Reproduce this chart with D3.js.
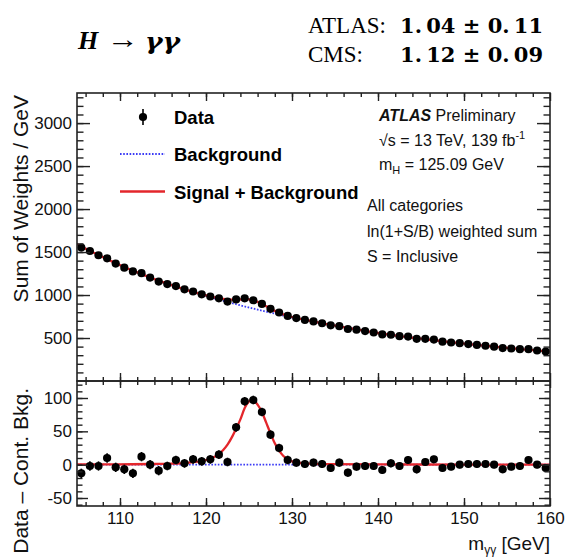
<!DOCTYPE html>
<html>
<head>
<meta charset="utf-8">
<script src="https://cdn.jsdelivr.net/npm/d3@7"></script>
<style>
  body { margin: 0; background: #fff; }
  svg { display: block; }
</style>
</head>
<body>
<svg id="chart" width="566" height="557"></svg>
<script>
// ---- Diphoton invariant-mass spectrum, ln(1+S/B)-weighted, all categories ----

// bin centres of the 1 GeV bins [GeV]
const massBins = [
  105.5, 106.5, 107.5, 108.5, 109.5, 110.5, 111.5, 112.5, 113.5, 114.5,
  115.5, 116.5, 117.5, 118.5, 119.5, 120.5, 121.5, 122.5, 123.5, 124.5,
  125.5, 126.5, 127.5, 128.5, 129.5, 130.5, 131.5, 132.5, 133.5, 134.5,
  135.5, 136.5, 137.5, 138.5, 139.5, 140.5, 141.5, 142.5, 143.5, 144.5,
  145.5, 146.5, 147.5, 148.5, 149.5, 150.5, 151.5, 152.5, 153.5, 154.5,
  155.5, 156.5, 157.5, 158.5, 159.5
];

// weighted data, sum of weights per GeV
const sumWeights = [
  1552, 1512, 1463, 1427, 1366, 1318, 1275, 1254, 1203, 1157,
  1128, 1104, 1066, 1041, 1008,  983,  962,  924,  949,  962,
   939,  897,  840,  797,  757,  732,  710,  693,  672,  648,
   638,  605,  597,  581,  564,  542,  538,  521,  517,  491,
   490,  482,  457,  448,  440,  430,  420,  410,  399,  383,
   378,  370,  370,  355,  342
];

// data minus continuum background
const residual = [
  -13,  -2,  -2,  10,  -4,  -7, -13,  12,   0,  -9,
   -2,   7,   2,   8,   5,   8,  15,   4,  56,  95,
   97,  79,  45,  25,   7,   3,   1,   3,   1,  -5,
    3, -12,  -3,  -2,  -2,  -8,   2,  -2,   7,  -7,
    4,   8,  -5,  -3,   0,   1,   1,   1,   0,  -7,
   -3,  -2,   7,   0,  -5
];

// statistical uncertainty per bin
const statErr = [
  7, 7, 7, 7, 7, 7, 7, 7, 7, 7,
  6.5, 6.5, 6.5, 6.5, 6.5, 6.5, 6.5, 6.5, 6.5, 6.5,
  6.5, 6.5, 6.5, 6.5, 6.5, 6, 6, 6, 6, 6,
  6, 6, 6, 6, 6, 6, 6, 6, 6, 6,
  5.5, 5.5, 5.5, 5.5, 5.5, 5.5, 5.5, 5.5, 5.5, 5.5,
  5.5, 5.5, 5.5, 5.5, 5.5
];

// continuum background fit, evaluated at the range edges and bin centres
const fitMass = [105, ...massBins, 160];
const bkgFit = [
  1592,
  1565, 1514, 1465, 1417, 1370, 1325, 1283, 1242, 1203, 1166,
  1130, 1097, 1064, 1033, 1003,  975,  947,  920,  893,  867,
   842,  818,  795,  772,  750,  729,  709,  690,  671,  653,
   635,  617,  600,  583,  566,  550,  536,  523,  510,  498,
   486,  474,  462,  451,  440,  429,  419,  409,  399,  390,
   381,  372,  363,  355,  347,
  343
];

// fitted Higgs signal shape
const signalMass = [
  105, 110, 114, 116, 117, 118, 119, 119.5, 120, 120.5,
  121, 121.5, 122, 122.5, 123, 123.5, 124, 124.5, 125, 125.3,
  125.6, 126, 126.5, 127, 127.5, 128, 128.5, 129, 129.5, 130,
  130.5, 131, 132, 134, 140, 150, 160
];
const signalYield = [
  0.3, 0.5, 1, 1.5, 2, 3, 4.5, 5.5, 7, 9,
  12, 16, 22, 30, 41, 54, 68, 85, 95, 97,
  96, 90, 79, 63, 47, 32, 21, 13, 8, 5,
  3.5, 2.5, 1.5, 0.8, 0.3, 0.2, 0.1
];

// axis ticks
const xMajor = [110, 120, 130, 140, 150, 160];
const xMinor = d3.range(106, 160, 2);
const yTopMajor = [500, 1000, 1500, 2000, 2500, 3000];
const yTopMinor = d3.range(100, 3400, 100);
const yBotMajor = [-50, 0, 50, 100];
const yBotMinor = d3.range(-60, 130, 10);

// legend and annotations
const legendItems = ["Data", "Background", "Signal + Background"];

// ---------------- layout ----------------
const frame = { left: 77, right: 550, top: 93, split: 381, bottom: 506 };
const SANS = "'Liberation Sans', Arial, Helvetica, sans-serif";
const SERIF = "'Liberation Serif', 'Times New Roman', serif";
const RED = "#e3262b";
const BLUE = "#3b3bf5";
const AXIS = "#222";
const MARKER_R = 4.1;

const x = d3.scaleLinear().domain([105, 160]).range([frame.left, frame.right]);
const yTop = d3.scaleLinear().domain([0, 3350]).range([frame.split, frame.top]);
const yBot = d3.scaleLinear().domain([-62, 125.5]).range([frame.bottom, frame.split]);

const svg = d3.select("#chart");

// linear lookup into a tabulated curve
function lookup(xs, ys, m) {
  const i = Math.min(Math.max(d3.bisectLeft(xs, m), 1), xs.length - 1);
  const t = (m - xs[i - 1]) / (xs[i] - xs[i - 1]);
  return ys[i - 1] + t * (ys[i] - ys[i - 1]);
}

// ---------------- curves ----------------
svg.append("clipPath").attr("id", "clipTop").append("rect")
  .attr("x", frame.left).attr("y", frame.top)
  .attr("width", frame.right - frame.left).attr("height", frame.split - frame.top);
svg.append("clipPath").attr("id", "clipBot").append("rect")
  .attr("x", frame.left).attr("y", frame.split)
  .attr("width", frame.right - frame.left).attr("height", frame.bottom - frame.split);

const upper = svg.append("g").attr("clip-path", "url(#clipTop)");
const lower = svg.append("g").attr("clip-path", "url(#clipBot)");

const bkgPoints = fitMass.map((m, i) => [m, bkgFit[i]]);
const sbMass = Array.from(new Set([...fitMass, ...signalMass])).sort((a, b) => a - b);
const sbPoints = sbMass.map(m => [m, lookup(fitMass, bkgFit, m) + lookup(signalMass, signalYield, m)]);

const lineTop = d3.line().x(d => x(d[0])).y(d => yTop(d[1])).curve(d3.curveMonotoneX);
const lineBot = d3.line().x(d => x(d[0])).y(d => yBot(d[1])).curve(d3.curveMonotoneX);

upper.append("path").datum(bkgPoints).attr("d", lineTop)
  .attr("fill", "none").attr("stroke", BLUE).attr("stroke-width", 1.8)
  .attr("stroke-dasharray", "1.6,1.6");
upper.append("path").datum(sbPoints).attr("d", lineTop)
  .attr("fill", "none").attr("stroke", RED).attr("stroke-width", 2.3);

lower.append("path").datum([[105, 0], [160, 0]]).attr("d", lineBot)
  .attr("fill", "none").attr("stroke", BLUE).attr("stroke-width", 1.8)
  .attr("stroke-dasharray", "1.6,1.6");
lower.append("path").datum(signalMass.map((m, i) => [m, signalYield[i]])).attr("d", lineBot)
  .attr("fill", "none").attr("stroke", RED).attr("stroke-width", 2.3);

// ---------------- data points ----------------
function drawPoints(g, yScale, values) {
  const pts = g.append("g").selectAll("g").data(massBins).join("g");
  pts.append("line")
    .attr("x1", m => x(m)).attr("x2", m => x(m))
    .attr("y1", (m, i) => yScale(values[i] - statErr[i]))
    .attr("y2", (m, i) => yScale(values[i] + statErr[i]))
    .attr("stroke", "#000").attr("stroke-width", 1.6);
  pts.append("circle")
    .attr("cx", m => x(m)).attr("cy", (m, i) => yScale(values[i]))
    .attr("r", MARKER_R).attr("fill", "#000");
}
drawPoints(upper, yTop, sumWeights);
drawPoints(lower, yBot, residual);

// ---------------- axes ----------------
function styleAxis(g, withLabels) {
  g.select(".domain").remove();
  g.selectAll(".tick line").attr("stroke", AXIS).attr("stroke-width", 1.4);
  g.selectAll(".tick text")
    .attr("fill", withLabels ? "#111" : "none")
    .attr("font-family", SANS).attr("font-size", 17);
}
function addAxis(axis, tx, ty, withLabels) {
  const g = svg.append("g").attr("transform", `translate(${tx},${ty})`).call(axis);
  styleAxis(g, withLabels);
  return g;
}
const none = () => "";

// upper panel
addAxis(d3.axisLeft(yTop).tickValues(yTopMinor).tickSize(-6.5).tickSizeOuter(0).tickFormat(none), frame.left, 0, false);
addAxis(d3.axisLeft(yTop).tickValues(yTopMajor).tickSize(-13).tickSizeOuter(0).tickPadding(5).tickFormat(d => String(d)), frame.left, 0, true);
addAxis(d3.axisRight(yTop).tickValues(yTopMinor).tickSize(-6.5).tickSizeOuter(0).tickFormat(none), frame.right, 0, false);
addAxis(d3.axisRight(yTop).tickValues(yTopMajor).tickSize(-13).tickSizeOuter(0).tickFormat(none), frame.right, 0, false);
addAxis(d3.axisTop(x).tickValues(xMinor).tickSize(-4).tickSizeOuter(0).tickFormat(none), 0, frame.top, false);
addAxis(d3.axisTop(x).tickValues(xMajor).tickSize(-8).tickSizeOuter(0).tickFormat(none), 0, frame.top, false);
addAxis(d3.axisBottom(x).tickValues(xMinor).tickSize(-4).tickSizeOuter(0).tickFormat(none), 0, frame.split, false);
addAxis(d3.axisBottom(x).tickValues(xMajor).tickSize(-8).tickSizeOuter(0).tickFormat(none), 0, frame.split, false);

// lower panel
addAxis(d3.axisLeft(yBot).tickValues(yBotMinor).tickSize(-5.5).tickSizeOuter(0).tickFormat(none), frame.left, 0, false);
addAxis(d3.axisLeft(yBot).tickValues(yBotMajor).tickSize(-11).tickSizeOuter(0).tickPadding(5).tickFormat(d => String(d)), frame.left, 0, true);
addAxis(d3.axisRight(yBot).tickValues(yBotMinor).tickSize(-5.5).tickSizeOuter(0).tickFormat(none), frame.right, 0, false);
addAxis(d3.axisRight(yBot).tickValues(yBotMajor).tickSize(-11).tickSizeOuter(0).tickFormat(none), frame.right, 0, false);
addAxis(d3.axisTop(x).tickValues(xMinor).tickSize(-4).tickSizeOuter(0).tickFormat(none), 0, frame.split, false);
addAxis(d3.axisTop(x).tickValues(xMajor).tickSize(-7).tickSizeOuter(0).tickFormat(none), 0, frame.split, false);
addAxis(d3.axisBottom(x).tickValues(xMinor).tickSize(-4).tickSizeOuter(0).tickFormat(none), 0, frame.bottom, false);
addAxis(d3.axisBottom(x).tickValues(xMajor).tickSize(-8).tickSizeOuter(0).tickPadding(6).tickFormat(d => String(d)), 0, frame.bottom, true);

// frames
[[frame.top, frame.split], [frame.split, frame.bottom]].forEach(([t, b]) => {
  svg.append("rect")
    .attr("x", frame.left).attr("y", t)
    .attr("width", frame.right - frame.left).attr("height", b - t)
    .attr("fill", "none").attr("stroke", AXIS).attr("stroke-width", 1.6);
});

// axis titles
svg.append("text")
  .attr("transform", "translate(28,95) rotate(-90)")
  .attr("text-anchor", "end").attr("font-family", SANS).attr("font-size", 21).attr("fill", "#111")
  .text("Sum of Weights / GeV");
svg.append("text")
  .attr("transform", "translate(28,388) rotate(-90)")
  .attr("text-anchor", "end").attr("font-family", SANS).attr("font-size", 21).attr("fill", "#111")
  .text("Data \u2013 Cont. Bkg.");
const xTitle = svg.append("text")
  .attr("x", frame.right).attr("y", 550).attr("text-anchor", "end")
  .attr("font-family", SANS).attr("font-size", 19).attr("fill", "#111");
xTitle.append("tspan").text("m");
xTitle.append("tspan").attr("font-size", 12).attr("dy", 4).text("\u03b3\u03b3");
xTitle.append("tspan").attr("dy", -4).text(" [GeV]");

// ---------------- legend ----------------
const leg = svg.append("g").attr("font-family", SANS).attr("font-weight", "bold").attr("font-size", 18.5).attr("fill", "#000");
// data marker
leg.append("line").attr("x1", 143).attr("x2", 143).attr("y1", 109).attr("y2", 125)
  .attr("stroke", "#000").attr("stroke-width", 1.6);
leg.append("circle").attr("cx", 143).attr("cy", 117).attr("r", MARKER_R).attr("fill", "#000");
leg.append("line").attr("x1", 120).attr("x2", 165).attr("y1", 154).attr("y2", 154)
  .attr("stroke", BLUE).attr("stroke-width", 1.8).attr("stroke-dasharray", "1.6,1.6");
leg.append("line").attr("x1", 120).attr("x2", 165).attr("y1", 191.5).attr("y2", 191.5)
  .attr("stroke", RED).attr("stroke-width", 2.3);
legendItems.forEach((label, i) => {
  leg.append("text").attr("x", 174).attr("y", 123.5 + i * 37.5).text(label);
});

// ---------------- annotation block ----------------
const ann = svg.append("g").attr("font-family", SANS).attr("font-size", 16).attr("fill", "#111");
const a1 = ann.append("text").attr("x", 379).attr("y", 121);
a1.append("tspan").attr("font-weight", "bold").attr("font-style", "italic").text("ATLAS");
a1.append("tspan").text(" Preliminary");
const a2 = ann.append("text").attr("x", 379).attr("y", 146);
a2.append("tspan").text("\u221as = 13 TeV, 139 fb");
a2.append("tspan").attr("font-size", 11).attr("dy", -7).text("-1");
const a3 = ann.append("text").attr("x", 379).attr("y", 170);
a3.append("tspan").text("m");
a3.append("tspan").attr("font-size", 11).attr("dy", 4).text("H");
a3.append("tspan").attr("dy", -4).text(" = 125.09 GeV");
ann.append("text").attr("x", 367).attr("y", 211).text("All categories");
ann.append("text").attr("x", 367).attr("y", 237).text("ln(1+S/B) weighted sum");
ann.append("text").attr("x", 367).attr("y", 262).text("S = Inclusive");

// ---------------- header: signal strengths ----------------
const head = svg.append("g").attr("fill", "#000");
head.append("text").attr("x", 78).attr("y", 49)
  .attr("font-family", SERIF).attr("font-size", 26).attr("font-weight", "bold").attr("font-style", "italic")
  .text("H");
head.append("text").attr("x", 107).attr("y", 48)
  .attr("font-family", SERIF).attr("font-size", 26)
  .attr("textLength", 32).attr("lengthAdjust", "spacingAndGlyphs")
  .text("\u2192");
head.append("text").attr("x", 145).attr("y", 49)
  .attr("font-family", "'DejaVu Serif', serif").attr("font-size", 23).attr("font-weight", "bold").attr("font-style", "italic")
  .attr("textLength", 35).attr("lengthAdjust", "spacingAndGlyphs")
  .text("\u03b3\u03b3");

const results = [
  { exp: "ATLAS:", mu: "1.\u200904 \u00b1 0.\u200911", y: 33 },
  { exp: "CMS:", mu: "1.\u200912 \u00b1 0.\u200909", y: 62 }
];
results.forEach(r => {
  head.append("text").attr("x", 308).attr("y", r.y)
    .attr("font-family", SERIF).attr("font-size", 23).text(r.exp);
  head.append("text").attr("x", 543).attr("y", r.y).attr("text-anchor", "end")
    .attr("font-family", "'DejaVu Serif', serif").attr("font-size", 21).attr("font-weight", "bold")
    .text(r.mu);
});
</script>
</body>
</html>
